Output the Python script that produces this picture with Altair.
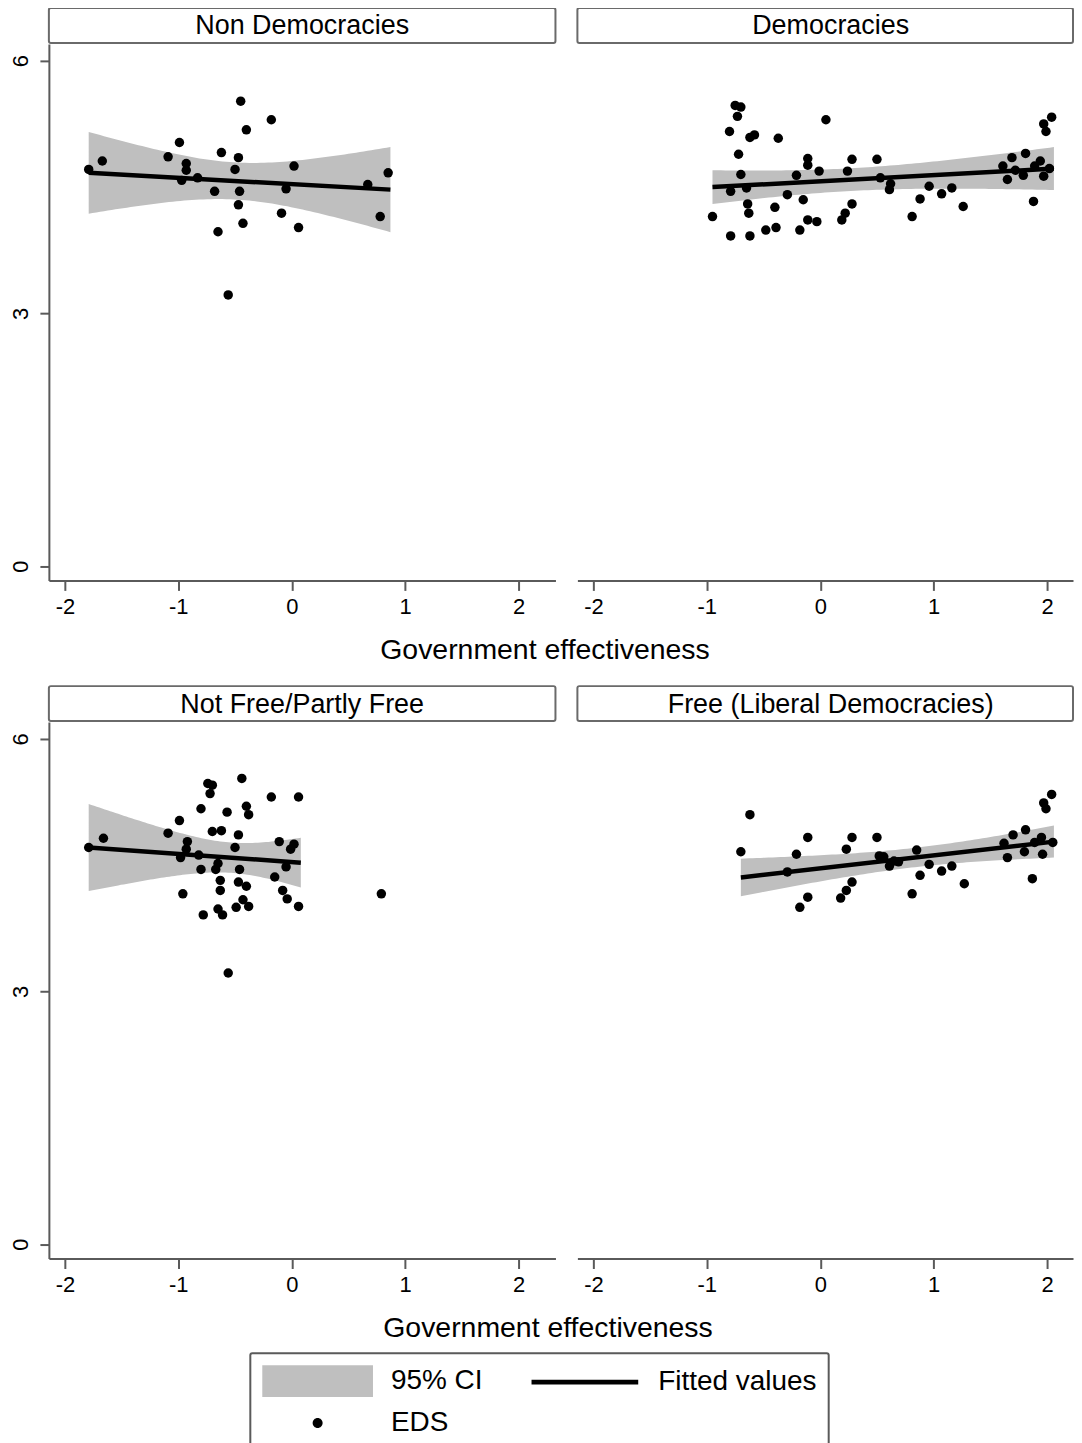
import altair as alt
import numpy as np
import pandas as pd

FONT = "Liberation Sans"
CI_GRAY = "#bfbfbf"
AXIS_GRAY = "#5a5a5a"

# ---------------- data ----------------
# Non Democracies
nd_x = [-0.45, -0.18, -0.40, -0.99, -1.09, -0.62, -0.47, -1.67, -1.79, -0.93, -0.93, -0.97, -0.83, -0.50,
        0.02, -0.68, -0.46, -0.05, 0.67, 0.85, -0.47, -0.09, 0.78, -0.43, 0.06, -0.65, -0.56]
nd_y = [5.52, 5.30, 5.18, 5.03, 4.86, 4.91, 4.85, 4.81, 4.71, 4.78, 4.70, 4.58, 4.61, 4.71,
        4.75, 4.45, 4.45, 4.48, 4.53, 4.67, 4.29, 4.19, 4.15, 4.07, 4.02, 3.97, 3.22]

# Democracies
de_x = [-0.75, -0.70, -0.73, -0.80, -0.62, -0.58, -0.37, 0.05, -0.72, -0.11, -0.11, -0.01, 0.28, 0.50,
        0.24, -0.21, -0.70, -0.65, -0.79, 0.53, 0.61, 0.62, -0.29, -0.15, -0.64, -0.63, -0.40, -0.95,
        -0.79, -0.62, -0.48, -0.39, -0.18, -0.11, -0.03, 0.19, 0.22, 0.28, 0.81, 0.88, 0.96, 1.07,
        1.16, 1.26, 1.61, 1.69, 1.65, 1.81, 1.79, 1.88, 1.89, 1.94, 1.97, 1.97, 1.99, 2.04, 1.72, 2.02]
de_y = [5.47, 5.45, 5.34, 5.16, 5.09, 5.12, 5.08, 5.30, 4.89, 4.84, 4.76, 4.69, 4.83, 4.83,
        4.69, 4.64, 4.65, 4.49, 4.45, 4.61, 4.47, 4.54, 4.41, 4.35, 4.30, 4.19, 4.26, 4.15,
        3.92, 3.92, 3.99, 4.02, 3.99, 4.11, 4.09, 4.11, 4.19, 4.30, 4.15, 4.36, 4.51, 4.42,
        4.49, 4.27, 4.75, 4.85, 4.59, 4.90, 4.64, 4.33, 4.75, 4.81, 4.63, 5.25, 5.16, 5.33, 4.70, 4.72]

# Not Free/Partly Free
nf_x = [-1.79, -1.66, -1.09, -0.99, -0.92, -0.93, -0.98, -0.82, -0.96, -0.80, -0.74, -0.70, -0.72, -0.44,
        -0.57, -0.40, -0.38, -0.18, 0.06, -0.70, -0.62, -0.47, -0.50, -0.80, -0.67, -0.65, -0.46, -0.11,
        -0.01, 0.02, -0.05, -0.15, -0.63, -0.63, -0.47, -0.40, -0.08, -0.04, 0.06, -0.43, -0.38, -0.49,
        -0.65, -0.61, -0.78, -0.56, 0.79]
nf_y = [4.71, 4.82, 4.88, 5.03, 4.78, 4.69, 4.59, 4.62, 4.16, 5.17, 5.47, 5.45, 5.35, 5.53,
        5.13, 5.20, 5.10, 5.31, 5.31, 4.90, 4.91, 4.86, 4.71, 4.45, 4.45, 4.52, 4.45, 4.78,
        4.69, 4.75, 4.48, 4.36, 4.32, 4.20, 4.30, 4.25, 4.20, 4.10, 4.01, 4.09, 4.01, 4.00,
        3.98, 3.91, 3.91, 3.22, 4.16]

# Free (Liberal Democracies)
fr_x = [-0.70, -0.62, -0.21, -0.11, -0.29, -0.11, -0.18, 0.23, 0.28, 0.28, 0.23, 0.18, 0.50, 0.52,
        0.56, 0.61, 0.65, 0.69, 0.85, 0.88, 0.81, 0.96, 1.07, 1.16, 1.27, 1.62, 1.70, 1.65,
        1.81, 1.80, 1.87, 1.89, 1.95, 1.96, 1.97, 1.99, 2.04, 2.05]
fr_y = [4.66, 5.10, 4.63, 4.83, 4.42, 4.12, 4.00, 4.69, 4.83, 4.30, 4.20, 4.11, 4.83, 4.61,
        4.60, 4.49, 4.55, 4.54, 4.68, 4.38, 4.16, 4.51, 4.43, 4.49, 4.28, 4.76, 4.86, 4.59,
        4.92, 4.66, 4.34, 4.77, 4.83, 4.63, 5.24, 5.17, 5.34, 4.77]

# Fitted lines: x range, fitted value at both ends
fit_x_ends = [[-1.79, 0.87], [-0.95, 2.06], [-1.79, 0.08], [-0.70, 2.06]]
fit_y_ends = [[4.67, 4.47], [4.50, 4.72], [4.71, 4.53], [4.355, 4.78]]
# 95% CI half-widths: left end, narrowest, right end
ci_halfwidth = [[0.485, 0.22, 0.505], [0.20, 0.135, 0.255], [0.517, 0.18, 0.296], [0.223, 0.115, 0.19]]

panel_titles = ["Non Democracies", "Democracies", "Not Free/Partly Free", "Free (Liberal Democracies)"]
# legend entries in the (column-major) order of the legend grid:
# column 1 = "95% CI", "EDS"; column 2 = "Fitted values"
legend_labels = ["95% CI", "EDS", "Fitted values"]
x_ticks = [-2, -1, 0, 1, 2]
y_ticks = [0, 3, 6]
x_title = "Government effectiveness"


def fit_frames(i, n_grid=80):
    (x0, x1), (y0, y1) = fit_x_ends[i], fit_y_ends[i]
    hl, hm, hr = ci_halfwidth[i]
    # hyperbolic CI band of a linear fit: hw(x)^2 = hm^2 + b (x - xm)^2
    rl, rr = np.sqrt(hl**2 - hm**2), np.sqrt(hr**2 - hm**2)
    xm = x0 + (x1 - x0) * rl / (rl + rr)
    b = (rl / (xm - x0)) ** 2
    g = np.linspace(x0, x1, n_grid)
    yh = y0 + (y1 - y0) * (g - x0) / (x1 - x0)
    hw = np.sqrt(hm**2 + b * (g - xm) ** 2)
    band = pd.DataFrame({"x": g, "lo": yh - hw, "hi": yh + hw})
    line = pd.DataFrame({"x": [x0, x1], "fit": [y0, y1]})
    return band, line


def points_frame(xs, ys):
    return pd.DataFrame({"x": xs, "y": ys})


PLOT_H = 538
STRIP_H = 35
FULL_W = 508
UNIT = 113.75
X_LO = -2.141
Y_DOM = [-0.17, 6.2]

# legend key symbols (unit = 16 px, symbol centre 16 px from entry's left edge)
LEG_SHAPES = [
    "M-1,-1H5.9375V1H-1Z",                                                # grey CI swatch
    "M2.156,0A0.3125,0.3125 0 1,0 2.781,0A0.3125,0.3125 0 1,0 2.156,0Z",  # dot
    "M-0.875,-0.15H5.8125V0.15H-0.875Z",                                  # thick black line
]

LEGEND = alt.Legend(title=None, orient="none", legendX=202, legendY=1349, columns=2,
                    labelFontSize=28, labelFont=FONT, labelColor="black", labelOffset=97,
                    labelLimit=400, columnPadding=47, rowPadding=10, padding=12,
                    strokeColor=AXIS_GRAY, fillColor="white",
                    symbolStrokeWidth=0, symbolOpacity=1, cornerRadius=2)


def panel(i, pts, width, show_y, with_legend):
    band_df, line_df = fit_frames(i)
    xscale = alt.Scale(domain=[X_LO, X_LO + width / UNIT], nice=False, zero=False)
    yscale = alt.Scale(domain=Y_DOM, nice=False, zero=False)
    xaxis = alt.Axis(values=x_ticks, title=None, grid=False, tickSize=10, tickWidth=2,
                     tickColor=AXIS_GRAY, domainColor=AXIS_GRAY, domainWidth=2,
                     labelFontSize=22, labelFont=FONT, labelColor="black", labelPadding=6,
                     labelFlush=False, labelExpr="'' + datum.value")
    if show_y:
        yaxis = alt.Axis(values=y_ticks, title=None, grid=False, tickSize=9, tickWidth=2,
                         tickColor=AXIS_GRAY, domainColor=AXIS_GRAY, domainWidth=2,
                         labelFontSize=22, labelFont=FONT, labelColor="black",
                         labelAngle=270, labelAlign="center", labelBaseline="alphabetic",
                         labelPadding=12, minExtent=41, maxExtent=41,
                         labelExpr="'' + datum.value")
    else:
        yaxis = None

    band = alt.Chart(band_df).mark_area(color=CI_GRAY, opacity=1).encode(
        x=alt.X("x:Q", scale=xscale, axis=xaxis),
        y=alt.Y("lo:Q", scale=yscale, axis=yaxis),
        y2="hi:Q",
    )
    line = alt.Chart(line_df).mark_line(color="black", strokeWidth=4.5).encode(
        x=alt.X("x:Q", scale=xscale),
        y=alt.Y("fit:Q", scale=yscale),
    )
    dots = alt.Chart(pts).mark_circle(color="black", opacity=1, size=90).encode(
        x=alt.X("x:Q", scale=xscale),
        y=alt.Y("y:Q", scale=yscale),
    )
    layers = [band, line, dots]
    if with_legend:
        key_df = pd.DataFrame({"key": legend_labels})
        key_layer = alt.Chart(key_df).mark_point(filled=True, opacity=0).encode(
            color=alt.Color("key:N", scale=alt.Scale(type="ordinal", domain=legend_labels,
                                                     range=[CI_GRAY, "black", "black"]),
                            legend=LEGEND),
            shape=alt.Shape("key:N", scale=alt.Scale(type="ordinal", domain=legend_labels,
                                                     range=LEG_SHAPES),
                            legend=LEGEND),
            size=alt.Size("key:N", scale=alt.Scale(type="ordinal", domain=legend_labels,
                                                   range=[1024, 1024, 1024]),
                          legend=LEGEND),
        )
        layers.append(key_layer)
    plot = alt.layer(*layers).properties(width=width, height=PLOT_H)

    sdf = pd.DataFrame({"t": [panel_titles[i]]})
    box = alt.Chart(sdf).mark_rect(fill="white", stroke="#6a6a6a", strokeWidth=2, cornerRadius=2).encode(
        x=alt.value(0), x2=alt.value(width), y=alt.value(0), y2=alt.value(STRIP_H))
    txt = alt.Chart(sdf).mark_text(font=FONT, fontSize=27, color="black", baseline="middle",
                                   align="center").encode(
        text="t:N", x=alt.value(FULL_W / 2), y=alt.value(STRIP_H / 2 + 1))
    strip = alt.layer(box, txt).properties(width=width, height=STRIP_H)
    return alt.vconcat(strip, plot, spacing=0)


def title_params(dx):
    return alt.TitleParams(x_title, orient="bottom", anchor="middle", fontSize=28.5, font=FONT,
                           fontWeight="normal", color="black", offset=19, dx=dx)


row1 = alt.hconcat(
    panel(0, points_frame(nd_x, nd_y), FULL_W, True, True),
    panel(1, points_frame(de_x, de_y), 497, False, False),
    spacing=20,
).properties(title=title_params(4))

row2 = alt.hconcat(
    panel(2, points_frame(nf_x, nf_y), FULL_W, True, False),
    panel(3, points_frame(fr_x, fr_y), 497, False, False),
    spacing=20,
).properties(title=title_params(7))

chart = alt.vconcat(row1, row2, spacing=20).properties(
    padding={"left": 0, "top": -3, "right": 0, "bottom": 0}, background="white"
).configure_view(stroke=None).configure_legend(strokeWidth=2)

chart.save("out.html", embed_options={"renderer": "svg", "actions": False})
